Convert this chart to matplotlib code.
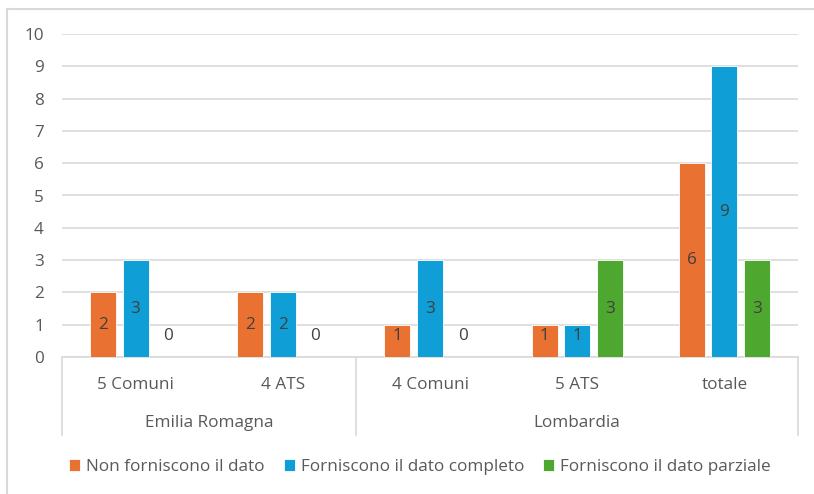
import matplotlib
matplotlib.use("Agg")
import matplotlib.pyplot as plt
from matplotlib.lines import Line2D
from matplotlib.transforms import blended_transform_factory
import numpy as np

plt.rcParams['font.family'] = ['Open Sans', 'DejaVu Sans']

categories = ["5 Comuni", "4 ATS", "4 Comuni", "5 ATS", "totale"]
groups = ["Emilia Romagna", "Lombardia"]
group_spans = [(0, 1), (2, 4)]
series_names = ["Non forniscono il dato", "Forniscono il dato completo", "Forniscono il dato parziale"]
non_forniscono = [2, 2, 1, 1, 6]
completo = [3, 2, 3, 1, 9]
parziale = [0, 0, 0, 3, 3]
colors = ["#E97132", "#0F9ED5", "#4EA72E"]
text_color = "#595959"
fs = 12.3

fig = plt.figure(figsize=(8.14, 4.94), dpi=100)
ax = fig.add_axes([62/814, 1-357/494, (798-62)/814, (357-34)/494])

x = np.arange(len(categories))
step = 0.2215
width = 0.1766
series = [non_forniscono, completo, parziale]
for i, (vals, c, name) in enumerate(zip(series, colors, series_names)):
    pos = x + (i - 1) * step
    ax.bar(pos, vals, width=width, color=c, edgecolor="white", linewidth=0.6, label=name, zorder=3)
    for px, v in zip(pos, vals):
        ax.text(px, max(v / 2, 0.65), str(v), ha="center", va="center",
                color="#404040", fontsize=fs, zorder=4)

ax.set_xlim(-0.5, len(categories) - 0.5)
ax.set_ylim(0, 10)
ax.set_yticks(range(0, 11))
ax.yaxis.grid(True, color="#D9D9D9", linewidth=1.2, zorder=0)
ax.set_axisbelow(True)
ax.tick_params(axis="y", length=0, pad=13, labelsize=fs, labelcolor=text_color)
ax.set_xticks([])
for s in ["top", "right", "left"]:
    ax.spines[s].set_visible(False)
ax.spines["bottom"].set_color("#D9D9D9")
ax.spines["bottom"].set_linewidth(1.2)

trans = blended_transform_factory(ax.transData, ax.transAxes)
ah = 357 - 34
for xi, cat in zip(x, categories):
    ax.text(xi, -(385 - 357) / ah, cat, transform=trans, ha="center", va="center",
            color=text_color, fontsize=fs)
for g, (a, b) in zip(groups, group_spans):
    ax.text((a + b) / 2, -(423 - 357) / ah, g, transform=trans, ha="center", va="center",
            color=text_color, fontsize=fs)
for xv in [-0.5, 1.5, 4.5]:
    ax.add_line(Line2D([xv, xv], [0, -(435 - 357) / ah], transform=trans,
                       color="#D9D9D9", linewidth=1.2, clip_on=False))

leg = fig.legend(loc="center", bbox_to_anchor=(420/814, 1 - 467/494), ncol=3, frameon=False,
                 fontsize=fs, handlelength=0.65, handleheight=0.65, handletextpad=0.35,
                 columnspacing=1.1)
for t in leg.get_texts():
    t.set_color(text_color)

# outer chart border (top and left visible)
fig.add_artist(Line2D([7/814, 1], [1-9/494, 1-9/494], transform=fig.transFigure, color="#D9D9D9", linewidth=1.5))
fig.add_artist(Line2D([7/814, 7/814], [0, 1-9/494], transform=fig.transFigure, color="#D9D9D9", linewidth=1.5))

fig.savefig("out.png", dpi=100)
